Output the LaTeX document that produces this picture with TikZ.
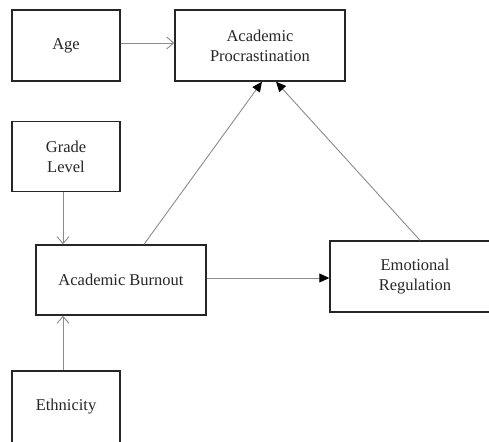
\documentclass[tikz,border=0pt]{standalone}
\usepackage{fontspec}
\setmainfont{Liberation Serif}
\usetikzlibrary{arrows.meta}
\begin{document}
\begin{tikzpicture}[x=1pt,y=-1pt,
  box/.style={draw=black!85,line width=1.4pt,fill=white,inner sep=0pt,align=center,
    font=\fontsize{16.5}{20}\selectfont,text=black!85},
  openarrow/.style={draw=black!45,line width=0.9pt,-{Straight Barb[length=7pt,width=12pt,line width=0.9pt]}},
  filledarrow/.style={draw=black!45,line width=0.9pt,-{Triangle[length=10pt,width=9pt,fill=black,color=black]}}]
\useasboundingbox (0,0) rectangle (489,441);
\clip (0,0) rectangle (489,441);
\fill[white] (0,0) rectangle (489,441);
\node[box,minimum width=108pt,minimum height=71pt] (age) at (66,45.5) {Age};
\node[box,minimum width=170pt,minimum height=71pt] (ap) at (260,45.5) {Academic\\Procrastination};
\node[box,minimum width=108pt,minimum height=70pt] (grade) at (66,156.5) {Grade\\Level};
\node[box,minimum width=170pt,minimum height=70pt] (ab) at (121,280) {Academic Burnout};
\node[box,minimum width=170pt,minimum height=71pt] (er) at (415,276.5) {Emotional\\Regulation};
\node[box,minimum width=108pt,minimum height=72pt] (eth) at (66,407) {Ethnicity};
\coordinate (agep) at (age.east |- 0,43);
\coordinate (app) at (ap.west |- 0,43);
\draw[openarrow] (agep) -- (app);
\coordinate (gs) at (63,0 |- grade.south);
\coordinate (ge) at (63,0 |- ab.north);
\draw[openarrow] (gs) -- (ge);
\coordinate (es) at (63,0 |- eth.north);
\coordinate (ee) at (63,0 |- ab.south);
\draw[openarrow] (es) -- (ee);
\coordinate (abt) at (144,0 |- ab.north);
\coordinate (apl) at (262,0 |- ap.south);
\draw[filledarrow] (abt) -- (apl);
\coordinate (ert) at (420,0 |- er.north);
\coordinate (apr) at (276,0 |- ap.south);
\draw[filledarrow] (ert) -- (apr);
\coordinate (abr) at (ab.east |- 0,278);
\coordinate (erl) at (er.west |- 0,278);
\draw[filledarrow] (abr) -- (erl);
\end{tikzpicture}
\end{document}
